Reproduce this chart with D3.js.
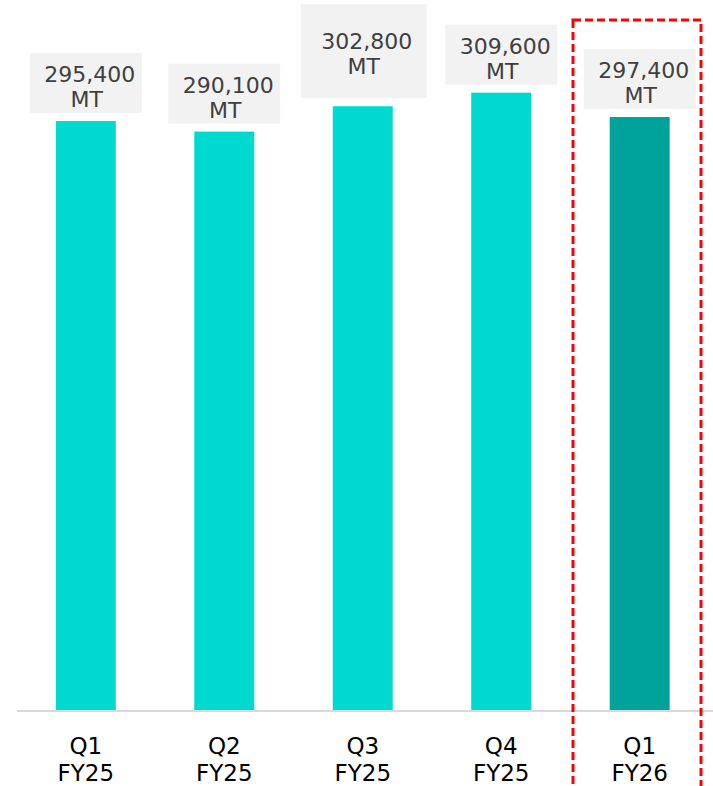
<!DOCTYPE html>
<html>
<head>
<meta charset="utf-8">
<script src="https://cdn.jsdelivr.net/npm/d3@7"></script>
<style>
  body { margin: 0; background: #fff; }
  text { font-family: "DejaVu Sans", Verdana, sans-serif; }
</style>
</head>
<body>
<div id="chart-area"></div>
<script>
// data
var quarters = ["Q1", "Q2", "Q3", "Q4", "Q1"];
var years = ["FY25", "FY25", "FY25", "FY25", "FY26"];
var volumes = [295400, 290100, 302800, 309600, 297400];
var unit = "MT";

var width = 713, height = 786;
var baseY = 711;

var svg = d3.select("#chart-area").append("svg")
    .attr("width", width)
    .attr("height", height);

// scales
var x = d3.scaleBand()
    .domain(d3.range(volumes.length))
    .range([16.5, 709])
    .paddingInner(0.567)
    .paddingOuter(0.284);
var y = d3.scaleLinear()
    .domain([0, 356000])
    .range([baseY, 0]);

var fmt = d3.format(",");

// bars
svg.selectAll(".bar")
    .data(volumes)
    .enter().append("rect")
    .attr("class", "bar")
    .attr("x", function(d, i){ return x(i); })
    .attr("width", x.bandwidth())
    .attr("y", function(d){ return y(d); })
    .attr("height", function(d){ return baseY - y(d); })
    .attr("fill", function(d, i){ return i == volumes.length - 1 ? "#00a39a" : "#00d9cf"; });

// axis line
var xAxis = svg.append("g")
    .attr("transform", "translate(0," + baseY + ")")
    .call(d3.axisBottom(x).tickSize(0).tickFormat(""));
xAxis.select(".domain")
    .attr("d", "M17,0H713")
    .attr("stroke", "#d9d9d9")
    .attr("stroke-width", 2);

// category labels (two lines)
xAxis.selectAll(".tick").each(function(d){
    var t = d3.select(this).append("text")
        .attr("fill", "#000")
        .attr("font-size", "23px")
        .attr("text-anchor", "middle");
    t.append("tspan").attr("x", 0).attr("y", 43).text(quarters[d]);
    t.append("tspan").attr("x", 0).attr("y", 70).text(years[d]);
});

// value labels with grey boxes (Q3 label sits in a taller box)
var labels = svg.selectAll(".vlabel")
    .data(volumes)
    .enter().append("g")
    .attr("class", "vlabel")
    .attr("transform", function(d, i){
        var lift = i == 2 ? 18 : 0;
        return "translate(" + (x(i) + x.bandwidth() / 2) + "," + (y(d) - lift) + ")";
    });

labels.append("rect")
    .attr("x", function(d, i){ return i == 2 ? -62 : -56; })
    .attr("width", function(d, i){ return i == 2 ? 126 : 112; })
    .attr("y", function(d, i){ return i == 2 ? -84 : -68; })
    .attr("height", function(d, i){ return i == 2 ? 94 : 60; })
    .attr("fill", "#f2f2f2");

labels.append("text")
    .attr("x", 4)
    .attr("y", -39)
    .attr("text-anchor", "middle")
    .attr("font-size", "22px")
    .attr("fill", "#404040")
    .text(function(d){ return fmt(d); });

labels.append("text")
    .attr("x", 1)
    .attr("y", -14)
    .attr("text-anchor", "middle")
    .attr("font-size", "22px")
    .attr("fill", "#404040")
    .text(unit);

// highlight frame around latest quarter
svg.append("rect")
    .attr("x", 573)
    .attr("y", 20)
    .attr("width", 128)
    .attr("height", 800)
    .attr("fill", "none")
    .attr("stroke", "#ff0000")
    .attr("stroke-width", 3)
    .attr("stroke-dasharray", "8,4");
</script>
</body>
</html>
